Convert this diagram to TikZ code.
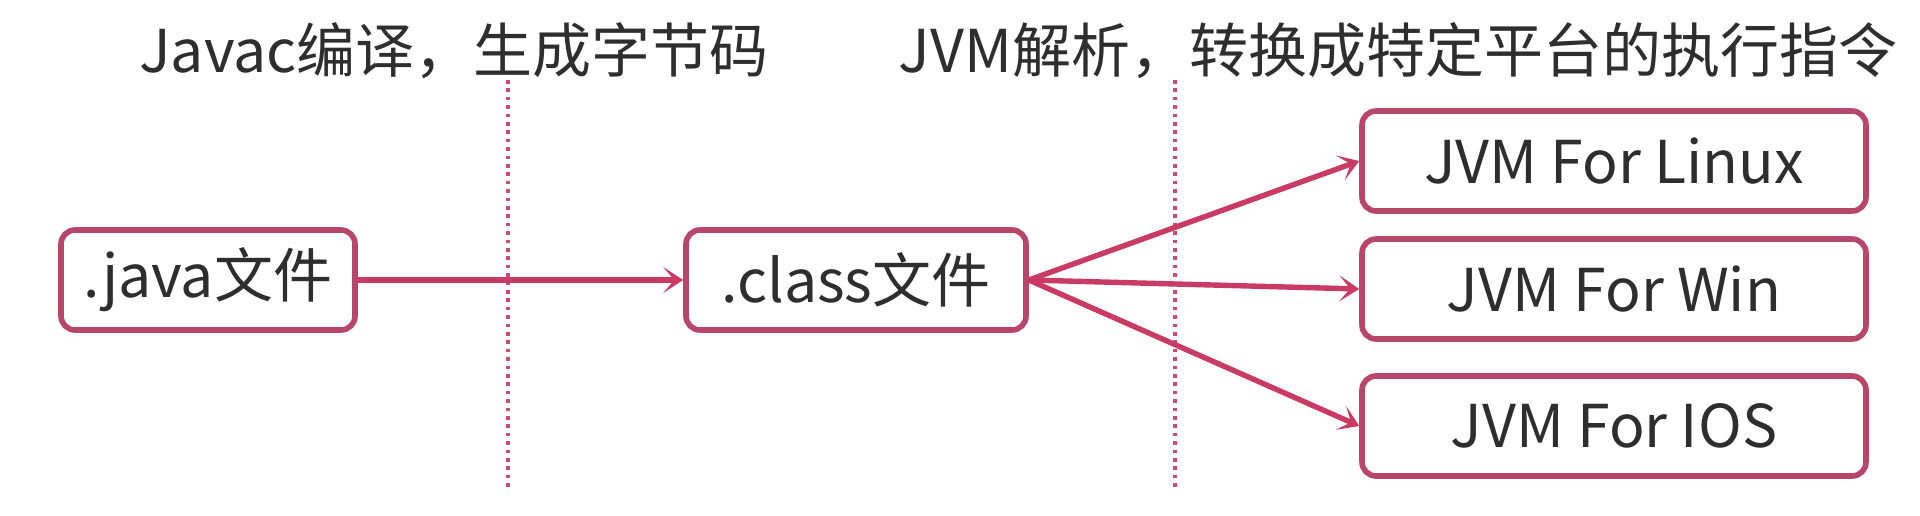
\documentclass[tikz,border=0pt]{standalone}
\usepackage{fontspec}
\usepackage{xcolor}
\usetikzlibrary{arrows.meta}
\newfontfamily\cjk{Noto Sans CJK SC}
\definecolor{flowink}{HTML}{2E2E2E}
\definecolor{flowframe}{HTML}{B8456A}
\definecolor{flowline}{HTML}{C93A64}
\definecolor{flowdot}{HTML}{CC4A76}

\begin{document}
\begin{tikzpicture}[
  x=0.5pt,
  y=-0.5pt,
  every node/.style={font=\cjk\fontsize{29.5}{34}\selectfont, text=flowink},
  box/.style={draw=flowframe, line width=2.8pt, rounded corners=7pt, fill=white,
              minimum height=50pt, inner sep=0pt},
  flow/.style={flowline, line width=2.7pt,
               -{Stealth[length=10pt, width=13pt, inset=5.5pt]}},
  divider/.style={flowdot, line width=1.8pt, dash pattern=on 1.8pt off 2.4pt}
]
  \useasboundingbox (0,0) rectangle (1920,515);

  %% ---- 两条分隔虚线 -------------------------------------------------
  \draw[divider] (508,80) -- (508,490);
  \draw[divider] (1175,80) -- (1175,490);

  %% ---- 顶部说明 -----------------------------------------------------
  \node (compile) at (454,51) {Javac编译，生成字节码};
  \node (parse) at (1398,51) {JVM解析，转换成特定平台的执行指令};

  %% ---- 文件框 -------------------------------------------------------
  \node[box, minimum width=147pt] (java) at (208,280) {.java文件};
  \node[box, minimum width=170pt] (class) at (856,280) {.class文件};

  %% ---- 三个平台的 JVM -----------------------------------------------
  % 右列三个框同宽，中心 x = 1614
  \node[box, minimum width=252pt] (linux) at (1614,161) {JVM For Linux};
  \node[box, minimum width=252pt] (win) at (1614,289) {JVM For Win};
  \node[box, minimum width=252pt] (ios) at (1614,426) {JVM For IOS};

  %% ---- 箭头 ---------------------------------------------------------
  \draw[flow] (java.east) -- (class.west);
  \foreach \t in {linux, win, ios}
    \draw[flow] (class.east) -- (\t.west);

\end{tikzpicture}
\end{document}
